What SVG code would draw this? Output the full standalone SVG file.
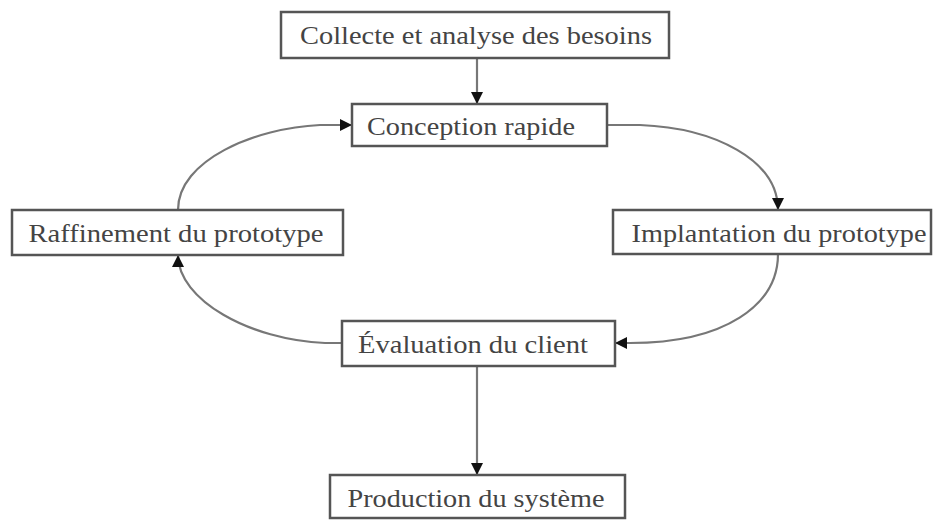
<svg xmlns="http://www.w3.org/2000/svg" width="935" height="522" viewBox="0 0 935 522">
  <style>
    .box { fill: #ffffff; stroke: #555555; stroke-width: 2.5; }
    .lbl { font-family: "Liberation Serif", "Times New Roman", serif; font-size: 26px; fill: #444444; text-anchor: middle; dominant-baseline: central; }
    .edge { fill: none; stroke: #777777; stroke-width: 2.2; marker-end: url(#arrow); }
  </style>
  <defs>
    <marker id="arrow" viewBox="0 0 10 10" refX="10" refY="5" markerWidth="12" markerHeight="12" markerUnits="userSpaceOnUse" orient="auto">
      <path d="M0,0 L10,5 L0,10 z" fill="#111111"/>
    </marker>
  </defs>
  <rect width="935" height="522" fill="#ffffff"/>

  <g id="connectors">
    <path class="edge" d="M477,58 L477,104"/>
    <path class="edge" d="M607,125 L640,125 C715,128 778,160 778,210"/>
    <path class="edge" d="M778,254 C778,305 725,343 630,343 L615,343"/>
    <path class="edge" d="M342,343 L325,343 C250,340 178,300 178,255"/>
    <path class="edge" d="M178,210 C178,160 255,128 320,125 L352,125"/>
    <path class="edge" d="M477,366 L477,475"/>
  </g>

  <g id="collecte">
    <rect class="box" x="281" y="12" width="388" height="46"/>
    <text class="lbl" x="476" y="35" textLength="352" lengthAdjust="spacingAndGlyphs">Collecte et analyse des besoins</text>
  </g>
  <g id="conception">
    <rect class="box" x="352" y="104" width="255" height="42"/>
    <text class="lbl" x="471" y="126" textLength="208" lengthAdjust="spacingAndGlyphs">Conception rapide</text>
  </g>
  <g id="raffinement">
    <rect class="box" x="12" y="210" width="331" height="45"/>
    <text class="lbl" x="176" y="233" textLength="295" lengthAdjust="spacingAndGlyphs">Raffinement du prototype</text>
  </g>
  <g id="implantation">
    <rect class="box" x="613" y="210" width="318" height="44"/>
    <text class="lbl" x="779" y="233" textLength="295" lengthAdjust="spacingAndGlyphs">Implantation du prototype</text>
  </g>
  <g id="evaluation">
    <rect class="box" x="342" y="321" width="273" height="45"/>
    <text class="lbl" x="473" y="344" textLength="230" lengthAdjust="spacingAndGlyphs">Évaluation du client</text>
  </g>
  <g id="production">
    <rect class="box" x="330" y="475" width="295" height="43"/>
    <text class="lbl" x="476" y="498" textLength="257" lengthAdjust="spacingAndGlyphs">Production du système</text>
  </g>
</svg>
